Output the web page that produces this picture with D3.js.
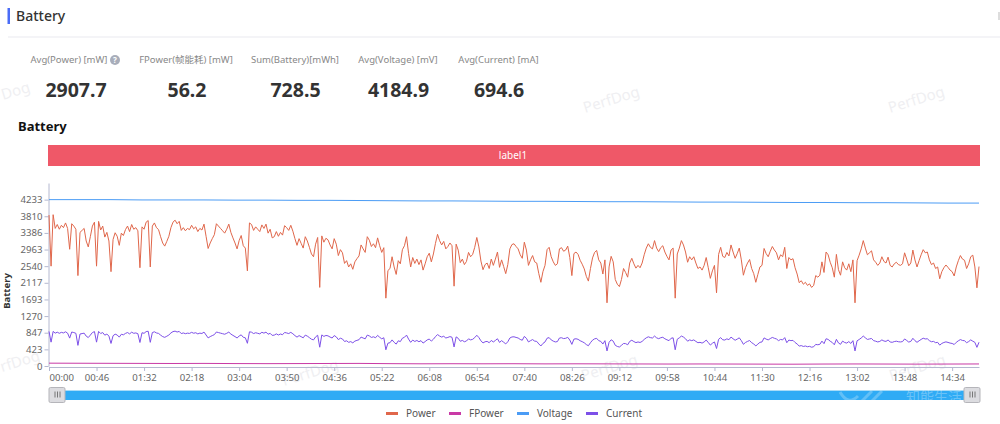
<!DOCTYPE html>
<html lang="en">
<head>
<meta charset="UTF-8">
<title>Battery</title>
<script src="https://d3js.org/d3.v7.min.js"></script>
<style>
    html,body{margin:0;padding:0;background:#fff;overflow:hidden}
    svg{display:block;font-family:"Noto Sans","Noto Sans CJK SC",sans-serif}
    .axis path,.axis line{stroke:#b4b8d0}
    .axis text{fill:#666;font-size:9.6px;font-family:"Noto Sans",sans-serif}
</style>
</head>
<body>
<svg id="chart" width="1000" height="424"></svg>
<script>
// summary numbers on top
const statNames = ['Avg(Power) [mW]', 'FPower(帧能耗) [mW]', 'Sum(Battery)[mWh]', 'Avg(Voltage) [mV]', 'Avg(Current) [mA]']
const statValues = ['2907.7', '56.2', '728.5', '4184.9', '694.6']
const seriesNames = ['Power', 'FPower', 'Voltage', 'Current']
const yTicks = [0, 423, 847, 1270, 1693, 2117, 2540, 2963, 3386, 3810, 4233]
const xTickLabels = ['00:00','00:46','01:32','02:18','03:04','03:50','04:36','05:22','06:08','06:54','07:40','08:26','09:12','09:58','10:44','11:30','12:16','13:02','13:48','14:34']

// one value every 2 seconds, a row is 30 seconds
const power = [
    3840,2540,3850,3500,3600,3480,3580,3520,3640,3500,2970,3620,3560,3480,2300,
    3400,3450,3500,3180,3030,3290,3560,3660,2540,3680,3460,3560,3280,3400,3180,
    2400,3220,3390,3300,3070,3380,3320,3470,3560,3420,3600,3480,3520,3440,2500,
    3540,3480,3660,3700,2520,3560,3640,3520,3470,3290,3130,3050,3170,3300,3520,
    3660,3710,3620,3680,3450,3520,3440,3500,3470,3580,3490,3540,3420,3500,3460,
    3610,3300,2990,3130,3240,3340,3620,3560,3500,3440,3380,3480,3610,3400,3260,
    3130,2980,3190,3320,3060,3000,2420,3640,3600,3450,3540,3480,3420,3590,3500,
    3610,3380,3480,3260,3290,3420,3300,3400,3330,3570,3520,3450,3580,3430,3240,
    3070,3240,3120,3000,3290,3180,3020,2850,2780,3100,3270,2000,3310,3150,3250,
    3210,3080,2980,3240,3100,2810,2960,2880,2610,2680,2520,2600,2460,2650,2730,
    2800,3080,2980,2890,3290,3200,3040,3110,3010,3260,3060,2890,3010,1726,2430,
    2480,2780,2520,2330,2680,2600,2960,3060,3290,2860,2520,2760,2610,2720,2580,
    2700,2440,2600,2780,2870,2650,2850,3120,3350,3190,3080,3170,2980,3040,3130,
    3060,2031,3100,2950,2630,2720,2580,2660,2890,2780,2840,3020,3270,3030,2670,
    2450,2580,2620,2480,2720,2560,2720,2900,2510,2700,2530,2350,2580,2980,3090,
    3110,3040,2980,2830,2740,3150,2950,2560,2700,2810,2650,2620,2350,2130,2400,
    2560,2960,3020,2780,2650,2560,2600,2980,3010,2920,2950,3050,2760,2300,2860,
    2900,2840,2690,2590,2470,2280,2160,2480,2750,2890,2940,2700,2620,2340,2700,
    1608,2520,2790,2650,2200,2080,2020,2200,2480,2380,2260,2620,2740,2600,2490,
    2560,2500,2620,2830,3000,3110,3020,2980,3190,3000,2910,3010,3060,2900,2790,
    2700,2950,3000,1726,2850,3000,3190,3080,2900,2640,2780,2700,2780,2620,2480,
    2520,2440,2560,2760,2500,2230,2420,2560,1862,2840,3020,2790,2760,2890,2800,
    3080,2900,2740,2860,3000,2700,2310,2500,2620,2710,2480,2350,2130,2330,2520,
    2560,2990,2860,2780,2920,3040,2950,2880,2700,2830,2780,3020,2480,2760,2700,
    2730,2500,2340,2120,2170,2080,2130,2050,2090,2000,2050,2300,2260,2310,2650,
    2380,2900,2830,2640,2500,2260,2840,2450,2310,2650,2500,2440,2600,2400,2700,
    1608,2680,2820,2980,3190,3000,2830,2880,2930,2700,2640,2560,2620,2780,2660,
    2620,2770,2560,2520,2600,2640,2580,2560,2600,2880,2720,2550,2620,2950,2700,
    2520,2680,2830,2960,2880,2900,2700,2580,2620,2480,2520,2220,2400,2500,2570,
    2510,2440,2400,2290,2520,2680,2810,2720,2690,2480,2600,2780,2820,2520,1989,
    2530
]
const current = [
    880,607,880,836,860,832,856,841,870,836,710,865,851,832,525,
    813,825,836,760,724,786,851,875,607,880,827,851,784,813,760,
    574,770,810,789,734,808,793,829,851,817,860,832,841,822,598,
    846,832,875,884,602,851,870,841,829,786,748,729,757,789,841,
    875,887,865,880,825,841,822,836,829,856,834,846,817,836,827,
    863,789,715,748,774,798,865,851,836,822,808,832,863,813,779,
    748,712,762,793,731,717,578,870,860,825,846,832,817,858,836,
    863,808,832,779,786,817,789,813,796,853,841,825,856,820,774,
    734,774,746,717,786,760,722,681,664,741,782,478,791,753,777,
    767,736,712,774,741,672,707,688,624,641,602,621,588,633,652,
    669,736,712,691,786,765,727,743,719,779,731,691,719,413,581,
    593,664,602,557,641,621,707,731,786,683,602,660,624,650,617,
    645,583,621,664,686,633,681,746,800,762,736,757,712,727,748,
    731,485,741,705,629,650,617,636,691,664,679,722,782,724,641,
    586,617,626,593,650,612,650,693,600,645,605,562,617,712,739,
    743,727,712,676,655,753,705,612,645,672,633,626,562,509,574,
    612,707,722,664,633,612,621,712,719,698,705,729,660,550,684,
    693,679,643,619,590,545,516,593,657,691,703,645,626,559,645,
    384,602,667,633,526,497,483,526,573,569,540,626,655,621,595,
    612,598,626,676,717,743,722,712,762,717,695,719,731,693,667,
    645,705,717,413,681,717,762,736,693,631,664,645,664,626,593,
    602,583,612,660,598,533,579,612,445,679,722,667,660,691,669,
    736,693,655,684,717,645,552,598,626,648,593,562,509,557,602,
    612,715,684,664,698,727,705,688,645,676,664,722,593,660,645,
    652,598,559,507,519,497,509,490,500,478,490,550,540,552,633,
    569,693,676,631,598,540,679,586,552,633,598,583,621,574,645,
    384,641,674,712,762,717,676,688,700,645,631,612,626,664,636,
    626,662,612,602,621,631,617,612,621,688,650,609,626,705,645,
    602,641,676,707,688,693,645,617,626,593,602,531,574,598,614,
    600,583,574,547,602,641,672,650,643,593,621,664,631,602,475,
    605
]
// one value every 30 seconds
const fpower = [72,70,68,66,64,66,62,60,62,64,66,60,56,58,56,58,54,56,54,52,50,52,50,48,46,50,52,50,48,50,52]
const voltage = [4233,4233,4233,4225,4225,4225,4220,4220,4215,4215,4210,4205,4200,4200,4195,4190,4190,4185,4180,4180,4175,4170,4170,4165,4160,4160,4155,4155,4150,4145,4145]

const colors = ['#e0674b', '#c93aa6', '#4b9cf5', '#7d50e8']
const svg = d3.select('#chart')

// watermark goes under everything
const marks = [[3,100,'Dog'],[585,113,'PerfDog'],[890,113,'PerfDog'],[2,372,'rfDog'],[284,386,'PerfDog'],[583,381,'PerfDog'],[891,381,'PerfDog']]
svg.selectAll('text.wm').data(marks).enter().append('text')
    .attr('class', 'wm')
    .attr('transform', d => `translate(${d[0]},${d[1]}) rotate(-17)`)
    .attr('fill', '#efeff2')
    .attr('font-size', 15)
    .text(d => d[2])

// page header
svg.append('rect').attr('x', 7.5).attr('y', 8).attr('width', 2.5).attr('height', 16).attr('fill', '#4a6cf7')
svg.append('text').attr('x', 16).attr('y', 21).attr('font-size', 14).attr('font-weight', 500).attr('fill', '#333').text('Battery')
svg.append('rect').attr('x', 8).attr('y', 36.5).attr('width', 992).attr('height', 1).attr('fill', '#e9eaf0')
svg.append('rect').attr('x', 998).attr('y', 12).attr('width', 2).attr('height', 8).attr('fill', '#ddd')

// stats row
const statX = [69, 186, 295, 398, 498.5]
const valueX = [76, 187, 295.5, 398.5, 499]
statNames.forEach((s, i) => {
    svg.append('text').attr('x', statX[i]).attr('y', 63).attr('text-anchor', 'middle')
        .attr('font-size', 9.5).attr('fill', '#888').text(s)
    svg.append('text').attr('x', valueX[i]).attr('y', 97).attr('text-anchor', 'middle')
        .attr('font-size', 19.5).attr('font-weight', 700).attr('fill', '#333').text(statValues[i])
})
svg.append('circle').attr('cx', 115).attr('cy', 60).attr('r', 5).attr('fill', '#a8adba')
svg.append('text').attr('x', 115).attr('y', 63).attr('text-anchor', 'middle').attr('font-size', 8).attr('font-weight', 700).attr('fill', '#fff').text('?')

svg.append('text').attr('x', 18).attr('y', 131).attr('font-size', 13).attr('font-weight', 700).attr('fill', '#111').text('Battery')

// label band
svg.append('rect').attr('x', 48).attr('y', 145).attr('width', 932).attr('height', 21).attr('fill', '#ef5868')
svg.append('text').attr('x', 513).attr('y', 159).attr('text-anchor', 'middle').attr('font-size', 10).attr('fill', '#fff').text('label1')

// scales
const x = d3.scaleLinear().domain([0, 900]).range([49, 979])
const y = d3.scaleLinear().domain([0, 4656]).range([366, 183])
const xTickSecs = xTickLabels.map(t => +t.slice(0, 2) * 60 + +t.slice(3))

const xAxis = svg.append('g').attr('class', 'axis').attr('transform', 'translate(0,367)')
    .call(d3.axisBottom(x).tickValues(xTickSecs).tickFormat((d, i) => xTickLabels[i]).tickSize(4).tickPadding(3).tickSizeOuter(0))
xAxis.select('.tick text').attr('text-anchor', 'start')

const yAxis = svg.append('g').attr('class', 'axis').attr('transform', 'translate(48.5,0)')
    .call(d3.axisLeft(y).tickValues(yTicks).tickFormat(d3.format('d')).tickSize(4).tickPadding(2).tickSizeOuter(0))

svg.append('text').attr('transform', 'translate(10,291) rotate(-90)').attr('text-anchor', 'middle')
    .attr('font-size', 9.5).attr('font-weight', 700).attr('fill', '#333').text('Battery')

// lines
function drawLine(vals, step, color, width) {
    const line = d3.line().x((d, i) => x(i * step)).y(d => y(d))
    svg.append('path').datum(vals).attr('d', line).attr('fill', 'none')
        .attr('stroke', color).attr('stroke-width', width).attr('stroke-linejoin', 'round')
}
drawLine(power, 2, colors[0], 1)
drawLine(fpower, 30, colors[1], 1)
drawLine(voltage, 30, colors[2], 1)
drawLine(current, 2, colors[3], 1)

// zoom slider
svg.append('rect').attr('x', 49).attr('y', 390).attr('width', 930).attr('height', 10).attr('fill', '#2fabf5')
svg.append('rect').attr('x', 49).attr('y', 390).attr('width', 930).attr('height', 1).attr('fill', '#a9dcf8')
;[49, 964].forEach(hx => {
    svg.append('rect').attr('x', hx).attr('y', 387.5).attr('width', 16).attr('height', 15).attr('rx', 1.5)
        .attr('fill', '#dcdce0').attr('stroke', '#b5b5ba').attr('stroke-width', 1)
    ;[5.5, 8, 10.5].forEach(o => {
        svg.append('rect').attr('x', hx + o).attr('y', 391.5).attr('width', 1).attr('height', 6).attr('fill', '#777')
    })
})
svg.append('text').attr('x', 906).attr('y', 402).attr('font-size', 14).attr('fill', '#fff').attr('fill-opacity', .3).text('知能生活')
svg.append('path').attr('d', 'M840,392 Q848,406 858,396 M872,391 L862,401 M882,391 L872,401').attr('fill', 'none')
    .attr('stroke', '#fff').attr('stroke-opacity', .25).attr('stroke-width', 3)

// legend
const legendX = [386, 449, 517, 586]
seriesNames.forEach((s, i) => {
    svg.append('rect').attr('x', legendX[i]).attr('y', 412).attr('width', 12).attr('height', 3).attr('fill', colors[i])
    svg.append('text').attr('x', legendX[i] + 20).attr('y', 417).attr('font-size', 10).attr('fill', '#555').text(s)
})
</script>
</body>
</html>
